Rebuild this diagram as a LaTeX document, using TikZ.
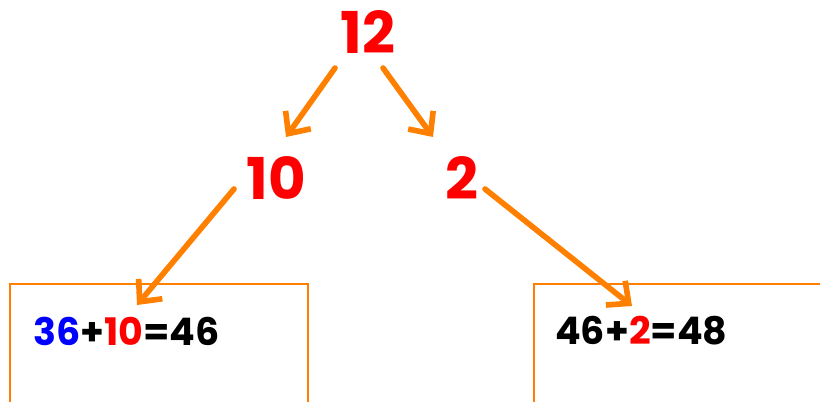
\documentclass[tikz,border=0pt]{standalone}
\usepackage{fontspec}
\setmainfont{Poppins}
\usepackage{tikz}
\usetikzlibrary{arrows.meta}
\definecolor{treeRed}{RGB}{255, 0, 0}
\definecolor{treeBlue}{RGB}{0, 0, 255}
\definecolor{treeOrange}{RGB}{255, 128, 0}

\begin{document}
\begin{tikzpicture}[x=0.025cm, y=-0.025cm,
    num/.style={text=treeRed, font=\fontsize{41}{41}\selectfont\bfseries, inner sep=0pt},
    eqn/.style={font=\fontsize{27}{27}\selectfont\bfseries, inner sep=0pt, anchor=west},
    arr/.style={-{Straight Barb[length=12pt, width=22pt]}, treeOrange, line width=4pt, line cap=round},
    frame/.style={draw=treeOrange, line width=1.2pt}]
        \useasboundingbox (0,0) rectangle (820,401);
        \node[num] (top) at (368,32) {12};
        \node[num] (left) at (276,178) {10};
        \node[num] (right) at (462,178) {2};

        \draw[frame] (10,402) -- (10,284) -- (308,284) -- (308,402);
        \draw[frame] (534,402) -- (534,284) -- (822,284);
        \node[eqn] (sumL) at (33,331) {\textcolor{treeBlue}{36}+\textcolor{treeRed}{10}=46};
        \node[eqn] (sumR) at (555,331) {46+\textcolor{treeRed}{2}=48};

        \coordinate (t1) at (335,68);   \coordinate (h1) at (286,137);
        \coordinate (t2) at (383,68);   \coordinate (h2) at (433,137);
        \coordinate (t3) at (234,189);  \coordinate (h3) at (137,305);
        \coordinate (t4) at (485,189);  \coordinate (h4) at (632,306);
        \draw[arr] (t1) -- (h1);
        \draw[arr] (t2) -- (h2);
        \draw[arr] (t3) -- (h3);
        \draw[arr] (t4) -- (h4);
      \end{tikzpicture}
\end{document}
